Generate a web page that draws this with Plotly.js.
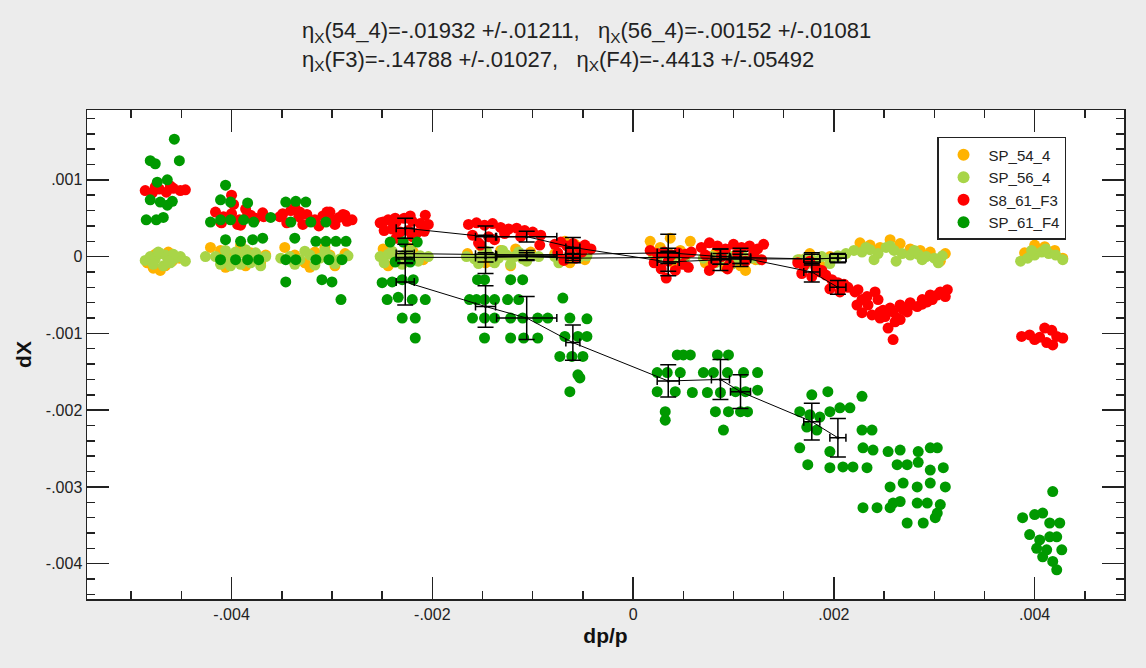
<!DOCTYPE html>
<html>
<head>
<meta charset="utf-8">
<script src="https://cdn.plot.ly/plotly-3.0.1.min.js"></script>
<style>html,body{margin:0;padding:0;background:#ececec;}#chart{width:1146px;height:668px;}</style>
</head>
<body>
<div id="chart"></div>
<script>
// ---------------- DATA ----------------
const seriesNames = ["SP_54_4", "SP_56_4", "S8_61_F3", "SP_61_F4"];

// SP_54_4 (orange)
const sp54_dp = [
 -0.00484,-0.00478,-0.00471,-0.00466,-0.00459,-0.00452,-0.00476,-0.00463,
 -0.00421,-0.00411,-0.00401,-0.00391,-0.00381,-0.00371,-0.00406,-0.00386,-0.00366,-0.00396,
 -0.00347,-0.00337,-0.00327,-0.00317,-0.00307,-0.00297,-0.00287,-0.00322,-0.00302,
 -0.00249,-0.00239,-0.00229,-0.00219,-0.00209,-0.00244,-0.00224,
 -0.00165,-0.00152,-0.00142,-0.00132,-0.00122,-0.00112,-0.00102,-0.00147,-0.00117,
 -0.00078,-0.00068,-0.00058,-0.00048,-0.00063,
 0.00017,0.00027,0.00037,0.00047,0.00057,0.00022,0.00042,
 0.00072,0.00082,0.00092,0.00102,0.00112,0.00122,0.00087,0.00107,
 0.00166,0.00176,0.00186,0.00196,0.00226,0.00236,0.00246,0.00256,0.00266,0.00276,0.00286,0.00296,0.00306,0.00311,
 0.00390,0.00400,0.00410,0.00420,0.00428];
const sp54_dX = [
 -0.00008,-0.00015,-0.00018,-0.00012,-0.00006,-0.00002,0.00003,0.00006,
 0.00012,0.00008,-0.00002,0.00015,0.00005,-0.00008,-0.00014,-0.00012,0.00002,0.00004,
 0.00012,0.00002,-0.00008,0.00006,0.00012,-0.00012,0.00004,-0.00014,0.00002,
 0.00010,0.00002,-0.00008,0.00006,-0.00004,-0.00012,0.00012,
 0.00004,0.00014,-0.00006,0.00008,-0.00012,0.00002,0.00006,-0.00008,0.00010,
 0.00004,0.00020,0.00016,-0.00004,-0.00008,
 0.00020,0.00012,0.00024,0.00008,0.00020,-0.00004,-0.00012,
 -0.00008,0.00004,-0.00014,0.00002,-0.00018,-0.00004,0.00008,-0.00012,
 -0.00004,0.00004,-0.00010,0.00000,0.00018,0.00015,0.00012,0.00022,0.00017,0.00010,0.00008,0.00006,-0.00006,0.00004,
 0.00005,0.00015,0.00013,0.00008,-0.00002];

// SP_56_4 (yellow-green)
const sp56_dp = [
 -0.00486,-0.00481,-0.00476,-0.00471,-0.00466,-0.00461,-0.00456,-0.00451,-0.00446,-0.00478,-0.00468,-0.00458,-0.00473,-0.00463,
 -0.00426,-0.00416,-0.00406,-0.00396,-0.00386,-0.00376,-0.00366,-0.00411,-0.00401,-0.00391,-0.00381,-0.00371,-0.00406,-0.00396,-0.00386,-0.00376,
 -0.00351,-0.00342,-0.00332,-0.00322,-0.00312,-0.00302,-0.00292,-0.00284,-0.00337,-0.00317,-0.00297,-0.00327,-0.00307,
 -0.00252,-0.00244,-0.00236,-0.00228,-0.00220,-0.00212,-0.00204,-0.00248,-0.00230,-0.00214,-0.00240,-0.00222,
 -0.00166,-0.00158,-0.00150,-0.00142,-0.00134,-0.00126,-0.00118,-0.00110,-0.00102,-0.00094,-0.00154,-0.00138,-0.00122,-0.00106,-0.00146,-0.00130,-0.00114,
 -0.00078,-0.00070,-0.00062,-0.00054,-0.00046,-0.00074,-0.00058,
 0.00020,0.00028,0.00036,0.00044,0.00052,0.00024,0.00040,
 0.00070,0.00078,0.00086,0.00094,0.00102,0.00110,0.00118,0.00126,0.00082,0.00098,
 0.00164,0.00172,0.00180,0.00188,0.00196,0.00204,0.00212,0.00220,0.00228,0.00236,0.00244,0.00252,0.00260,0.00268,0.00276,0.00284,0.00292,0.00300,0.00308,0.00172,0.00196,0.00240,0.00262,0.00288,0.00304,0.00232,0.00256,0.00280,
 0.00386,0.00393,0.00400,0.00407,0.00414,0.00421,0.00428,0.00397,0.00411];
const sp56_dX = [
 -0.00005,0.00000,-0.00003,0.00004,0.00002,-0.00008,-0.00002,0.00000,-0.00006,-0.00010,-0.00012,0.00003,0.00006,-0.00006,
 0.00000,0.00000,-0.00002,0.00000,0.00002,-0.00003,0.00000,-0.00010,-0.00012,-0.00010,-0.00008,-0.00012,0.00008,0.00006,0.00009,0.00005,
 -0.00002,0.00000,-0.00004,0.00002,-0.00002,0.00000,-0.00003,0.00001,-0.00010,-0.00011,-0.00009,0.00007,0.00008,
 0.00000,0.00003,-0.00002,0.00002,-0.00001,0.00001,0.00000,-0.00008,-0.00010,-0.00006,0.00007,0.00008,
 0.00000,-0.00003,0.00002,0.00000,-0.00002,0.00002,0.00000,-0.00003,0.00001,0.00000,-0.00009,-0.00008,-0.00010,-0.00006,0.00007,0.00008,0.00006,
 0.00000,-0.00003,0.00002,-0.00001,0.00001,-0.00008,0.00006,
 0.00003,0.00006,0.00004,0.00002,0.00000,-0.00002,0.00000,
 -0.00002,0.00000,-0.00004,0.00002,-0.00003,0.00000,-0.00002,-0.00004,-0.00008,-0.00010,
 -0.00004,-0.00002,-0.00005,0.00000,-0.00003,0.00001,0.00004,0.00008,0.00006,0.00009,0.00004,0.00012,0.00008,0.00004,0.00002,0.00003,0.00000,-0.00002,0.00001,-0.00010,-0.00009,-0.00004,-0.00006,-0.00004,-0.00008,0.00012,0.00014,0.00008,
 -0.00006,-0.00002,0.00002,0.00006,0.00004,0.00002,-0.00004,0.00008,0.00010];

// S8_61_F3 (red)
const f3_dp = [
 -0.00486,-0.00479,-0.00472,-0.00465,-0.00458,-0.00451,-0.00446,-0.00476,-0.00461,
 -0.00416,-0.00408,-0.00400,-0.00392,-0.00384,-0.00376,-0.00368,-0.00410,-0.00394,-0.00378,-0.00400,-0.00386,-0.00398,
 -0.00411,-0.00391,-0.00381,-0.00369,
 -0.00349,-0.00341,-0.00333,-0.00325,-0.00317,-0.00309,-0.00301,-0.00293,-0.00285,-0.00345,-0.00329,-0.00313,-0.00297,-0.00337,-0.00305,-0.00289,
 -0.00352,-0.00332,-0.00302,-0.00287,-0.00280,
 -0.00252,-0.00244,-0.00236,-0.00228,-0.00220,-0.00212,-0.00204,-0.00248,-0.00240,-0.00232,-0.00224,-0.00216,-0.00208,-0.00236,-0.00220,
 -0.00249,-0.00237,-0.00222,-0.00207,
 -0.00164,-0.00156,-0.00148,-0.00140,-0.00132,-0.00124,-0.00116,-0.00108,-0.00100,-0.00092,-0.00160,-0.00144,-0.00128,-0.00112,-0.00154,-0.00138,
 -0.00093,-0.00152,
 -0.00078,-0.00072,-0.00066,-0.00060,-0.00054,-0.00048,-0.00042,-0.00075,-0.00063,-0.00051,-0.00069,-0.00057,
 0.00017,0.00024,0.00031,0.00038,0.00045,0.00052,0.00058,0.00021,0.00035,0.00049,0.00028,0.00042,0.00055,0.00033,
 0.00068,0.00076,0.00084,0.00092,0.00100,0.00108,0.00116,0.00124,0.00130,0.00072,0.00088,0.00104,0.00120,0.00080,0.00096,0.00112,0.00128,0.00076,0.00094,
 0.00164,0.00170,0.00176,0.00182,0.00188,0.00192,0.00198,0.00204,0.00210,0.00168,0.00178,0.00186,0.00196,0.00206,0.00214,
 0.00223,0.00233,0.00241,0.00228,0.00238,0.00256,0.00266,0.00263,0.00273,0.00283,0.00293,0.00303,0.00311,0.00298,0.00254,0.00259,0.00251,0.00246,0.00276,0.00288,
 0.00221,0.00228,0.00234,0.00244,0.00249,0.00259,0.00269,0.00276,0.00288,0.00296,0.00306,0.00313,0.00246,0.00266,0.00261,0.00224,
 0.00387,0.00395,0.00405,0.00410,0.00417,0.00422,0.00428,0.00412,0.00418,0.00400];
const f3_dX = [
 0.00086,0.00083,0.00088,0.00084,0.00089,0.00086,0.00087,0.00091,0.00092,
 0.00058,0.00052,0.00056,0.00048,0.00054,0.00050,0.00052,0.00044,0.00042,0.00046,0.00080,0.00062,0.00068,
 0.00045,0.00041,0.00054,0.00057,
 0.00056,0.00060,0.00052,0.00055,0.00048,0.00053,0.00049,0.00051,0.00046,0.00044,0.00042,0.00040,0.00042,0.00064,0.00058,0.00055,
 0.00052,0.00058,0.00058,0.00054,0.00048,
 0.00044,0.00048,0.00045,0.00050,0.00046,0.00043,0.00042,0.00034,0.00036,0.00032,0.00034,0.00030,0.00033,0.00024,0.00026,
 0.00045,0.00050,0.00053,0.00054,
 0.00042,0.00044,0.00041,0.00043,0.00038,0.00036,0.00037,0.00034,0.00032,0.00028,0.00028,0.00026,0.00030,0.00026,0.00018,0.00022,
 0.00015,0.00015,
 0.00016,0.00019,0.00014,0.00017,0.00012,0.00015,0.00010,0.00005,0.00004,0.00006,-0.00005,-0.00002,
 0.00008,0.00004,0.00006,0.00002,0.00005,0.00003,0.00006,-0.00008,-0.00006,-0.00010,-0.00016,-0.00018,-0.00014,-0.00028,
 0.00012,0.00018,0.00014,0.00010,0.00016,0.00012,0.00014,0.00010,0.00016,0.00002,0.00000,0.00004,0.00003,-0.00008,-0.00010,-0.00006,-0.00004,-0.00018,-0.00016,
 -0.00008,-0.00012,-0.00006,-0.00014,-0.00018,-0.00024,-0.00030,-0.00034,-0.00036,-0.00022,-0.00026,-0.00020,-0.00042,-0.00046,-0.00040,
 -0.00063,-0.00052,-0.00046,-0.00073,-0.00076,-0.00067,-0.00063,-0.00080,-0.00072,-0.00065,-0.00059,-0.00050,-0.00052,-0.00056,-0.00093,-0.00108,-0.00078,-0.00072,-0.00060,-0.00062,
 -0.00046,-0.00056,-0.00063,-0.00056,-0.00070,-0.00072,-0.00069,-0.00063,-0.00056,-0.00050,-0.00046,-0.00043,-0.00080,-0.00082,-0.00085,-0.00043,
 -0.00104,-0.00102,-0.00105,-0.00093,-0.00096,-0.00104,-0.00106,-0.00112,-0.00115,-0.00108];

// SP_61_F4 (green)
const f4_dp = [
 -0.00457,-0.00481,-0.00476,-0.00452,-0.00474,-0.00464,-0.00481,-0.00471,-0.00464,-0.00485,-0.00475,-0.00468,-0.00459,
 -0.00406,-0.00411,-0.00401,-0.00384,-0.00421,-0.00411,-0.00401,-0.00388,-0.00378,-0.00361,-0.00406,-0.00391,-0.00379,-0.00369,-0.00411,-0.00396,-0.00384,-0.00373,
 -0.00346,-0.00336,-0.00326,-0.00341,-0.00321,-0.00306,-0.00337,-0.00316,-0.00306,-0.00296,-0.00286,-0.00346,-0.00336,-0.00316,-0.00303,-0.00290,-0.00346,-0.00310,-0.00300,-0.00291,
 -0.00242,-0.00229,-0.00215,-0.00250,-0.00240,-0.00230,-0.00219,-0.00245,-0.00234,-0.00220,-0.00207,-0.00230,-0.00217,-0.00217,-0.00237,-0.00222,
 -0.00155,-0.00148,-0.00156,-0.00148,-0.00160,-0.00148,-0.00138,-0.00148,-0.00163,-0.00138,
 -0.00122,-0.00110,-0.00125,-0.00114,-0.00122,-0.00110,-0.00095,-0.00085,-0.00122,-0.00109,-0.00095,
 -0.00070,-0.00063,-0.00046,-0.00068,-0.00055,-0.00046,-0.00073,-0.00061,-0.00050,-0.00055,-0.00053,-0.00063,
 0.00044,0.00050,0.00024,0.00034,0.00047,0.00024,0.00042,0.00059,0.00032,0.00032,0.00057,
 0.00084,0.00095,0.00070,0.00080,0.00094,0.00110,0.00124,0.00074,0.00087,0.00102,0.00112,0.00124,0.00082,0.00095,0.00107,0.00114,0.00090,
 0.00178,0.00194,0.00166,0.00176,0.00186,0.00196,0.00206,0.00216,0.00228,0.00173,0.00183,0.00228,0.00238,0.00166,0.00196,0.00174,0.00196,0.00209,0.00219,0.00233,
 0.00229,0.00239,0.00254,0.00266,0.00284,0.00296,0.00303,0.00263,0.00273,0.00284,0.00296,0.00309,0.00256,0.00269,0.00283,0.00296,0.00311,
 0.00259,0.00266,0.00283,0.00293,0.00306,0.00229,0.00243,0.00256,0.00303,0.00301,0.00273,0.00289,
 0.00418,0.00388,0.00400,0.00408,0.00415,0.00425,0.00395,0.00405,0.00415,0.00422,0.00402,0.00412,0.00427,0.00408,0.00418,0.00422];
const f4_dX = [
 0.00153,0.00125,0.00121,0.00125,0.00097,0.00100,0.00074,0.00071,0.00067,0.00048,0.00048,0.00051,0.00072,
 0.00093,0.00074,0.00071,0.00070,0.00045,0.00048,0.00048,0.00048,0.00045,0.00051,0.00022,0.00020,0.00022,0.00024,-0.00004,-0.00004,-0.00004,-0.00004,
 0.00071,0.00072,0.00071,0.00045,0.00045,0.00045,0.00024,0.00020,0.00020,0.00020,0.00020,-0.00004,-0.00004,-0.00004,-0.00004,-0.00004,-0.00033,-0.00030,-0.00033,-0.00056,
 0.00019,0.00019,0.00019,-0.00034,-0.00033,-0.00030,-0.00030,-0.00056,-0.00053,-0.00056,-0.00056,-0.00080,-0.00080,-0.00106,-0.00007,-0.00007,
 -0.00030,-0.00030,-0.00056,-0.00056,-0.00080,-0.00080,-0.00080,-0.00106,-0.00056,-0.00056,
 -0.00030,-0.00030,-0.00056,-0.00056,-0.00080,-0.00080,-0.00080,-0.00080,-0.00106,-0.00106,-0.00106,
 -0.00054,-0.00080,-0.00081,-0.00104,-0.00104,-0.00104,-0.00130,-0.00130,-0.00130,-0.00154,-0.00158,-0.00176,
 -0.00128,-0.00128,-0.00151,-0.00151,-0.00151,-0.00176,-0.00176,-0.00177,-0.00202,-0.00213,-0.00128,
 -0.00128,-0.00128,-0.00151,-0.00151,-0.00151,-0.00151,-0.00151,-0.00177,-0.00177,-0.00176,-0.00176,-0.00174,-0.00202,-0.00202,-0.00202,-0.00202,-0.00226,
 -0.00180,-0.00176,-0.00202,-0.00206,-0.00209,-0.00202,-0.00197,-0.00197,-0.00182,-0.00222,-0.00226,-0.00226,-0.00226,-0.00249,-0.00254,-0.00271,-0.00275,-0.00274,-0.00274,-0.00275,
 -0.00249,-0.00252,-0.00254,-0.00252,-0.00254,-0.00249,-0.00249,-0.00271,-0.00271,-0.00268,-0.00278,-0.00275,-0.00300,-0.00295,-0.00300,-0.00295,-0.00300,
 -0.00321,-0.00319,-0.00321,-0.00321,-0.00323,-0.00327,-0.00327,-0.00327,-0.00334,-0.00340,-0.00347,-0.00347,
 -0.00306,-0.00340,-0.00336,-0.00334,-0.00347,-0.00347,-0.00362,-0.00369,-0.00365,-0.00365,-0.00380,-0.00382,-0.00382,-0.00391,-0.00397,-0.00408];

// Averaged points with errors (black)
const mean_dp   = [-0.00227,-0.00147,-0.00106,-0.00060,0.00035,0.00087,0.00107,0.00178,0.00204];
const mean_dp_err = [0.00009,0.00010,0.00030,0.00007,0.00011,0.00009,0.00010,0.00008,0.00008];
const mean54_dX  = [0.00004,0.00003,0.00002,0.00003,0.00005,0.00000,-0.00001,-0.00003,-0.00002];
const mean54_err = [0.00012,0.00025,0.00006,0.00008,0.00024,0.00010,0.00008,0.00008,0.00006];
const mean56_dX  = [-0.00001,-0.00001,0.00000,-0.00002,-0.00001,-0.00003,-0.00003,-0.00003,-0.00002];
const mean56_err = [0.00008,0.00006,0.00005,0.00006,0.00008,0.00007,0.00006,0.00006,0.00005];
const meanF3_dX  = [0.00037,0.00026,0.00026,0.00012,-0.00007,-0.00004,-0.00001,-0.00020,-0.00040];
const meanF3_err = [0.00013,0.00014,0.00007,0.00013,0.00018,0.00014,0.00012,0.00013,0.00009];
const meanF4_dX  = [-0.00033,-0.00065,-0.00080,-0.00112,-0.00162,-0.00160,-0.00176,-0.00215,-0.00236];
const meanF4_err = [0.00030,0.00027,0.00028,0.00023,0.00021,0.00026,0.00022,0.00024,0.00025];

const xTickVals = [-0.004, -0.002, 0, 0.002, 0.004];
const xTickText = ["-.004", "-.002", "0", ".002", ".004"];
const yTickVals = [0.001, 0, -0.001, -0.002, -0.003, -0.004];
const yTickText = [".001", "0", "-.001", "-.002", "-.003", "-.004"];

const titleText = "η<sub>X</sub>(54_4)=-.01932 +/-.01211,   η<sub>X</sub>(56_4)=-.00152 +/-.01081<br>" +
                  "η<sub>X</sub>(F3)=-.14788 +/-.01027,   η<sub>X</sub>(F4)=-.4413 +/-.05492";

// ---------------- TRACES ----------------
const colors = ["#ffb300", "#a8d548", "#ff0000", "#009900"];
const scatterX = [sp54_dp, sp56_dp, f3_dp, f4_dp];
const scatterY = [sp54_dX, sp56_dX, f3_dX, f4_dX];

const traces = [];
for (let i = 0; i < 4; i++) {
  traces.push({
    type: "scatter", mode: "markers", name: seriesNames[i],
    x: scatterX[i], y: scatterY[i],
    marker: {color: colors[i], size: 11, line: {width: 0}}
  });
}
const meansY = [mean54_dX, mean56_dX, meanF3_dX, meanF4_dX];
const meansE = [mean54_err, mean56_err, meanF3_err, meanF4_err];
for (let i = 0; i < 4; i++) {
  traces.push({
    type: "scatter", mode: "lines+markers", showlegend: false,
    x: mean_dp, y: meansY[i],
    line: {color: "#000", width: 1},
    marker: {color: "#000", size: 3},
    error_y: {type: "data", array: meansE[i], visible: true, color: "#000", thickness: 1.5, width: 8},
    error_x: {type: "data", array: mean_dp_err, visible: true, color: "#000", thickness: 1.5, width: 4}
  });
}

const FONT = "Liberation Sans, Arial, sans-serif";
const axisCommon = {
  showgrid: false, zeroline: false, showline: true, linecolor: "#222", linewidth: 1.5,
  mirror: "allticks", ticks: "inside", ticklen: 22, tickwidth: 1.5, tickcolor: "#222",
  tickfont: {family: FONT, size: 16, color: "#222"},
  tickmode: "array"
};

const layout = {
  width: 1146, height: 668,
  paper_bgcolor: "#ececec", plot_bgcolor: "#ffffff",
  margin: {l: 87, r: 22, t: 110, b: 69},
  title: {
    text: titleText, xref: "container", yref: "container",
    x: 0.2635, xanchor: "left", y: 0.943, yanchor: "top",
    font: {family: FONT, size: 22, color: "#222"}
  },
  xaxis: Object.assign({}, axisCommon, {
    range: [-0.00544, 0.00489], tickvals: xTickVals, ticktext: xTickText,
    minor: {tickmode: "linear", tick0: 0, dtick: 0.0005, ticks: "inside", ticklen: 8, tickwidth: 1.5, tickcolor: "#222"},
    title: {text: "<b>dp/p</b>", standoff: 6, font: {family: FONT, size: 21, color: "#111"}}
  }),
  yaxis: Object.assign({}, axisCommon, {
    range: [-0.00446, 0.00191], tickvals: yTickVals, ticktext: yTickText,
    minor: {tickmode: "linear", tick0: 0, dtick: 0.0002, ticks: "inside", ticklen: 8, tickwidth: 1.5, tickcolor: "#222"},
    title: {text: "<b>dX</b>", standoff: 8, font: {family: FONT, size: 21, color: "#111"}}
  }),
  legend: {
    x: 0.8197, y: 0.9448, xanchor: "left", yanchor: "top",
    bgcolor: "#ffffff", bordercolor: "#222", borderwidth: 1.5,
    font: {family: FONT, size: 15, color: "#222"},
    itemsizing: "constant", itemwidth: 40, entrywidth: 160
  },
  showlegend: true
};

Plotly.newPlot("chart", traces, layout, {displayModeBar: false, staticPlot: true});
</script>
</body>
</html>
